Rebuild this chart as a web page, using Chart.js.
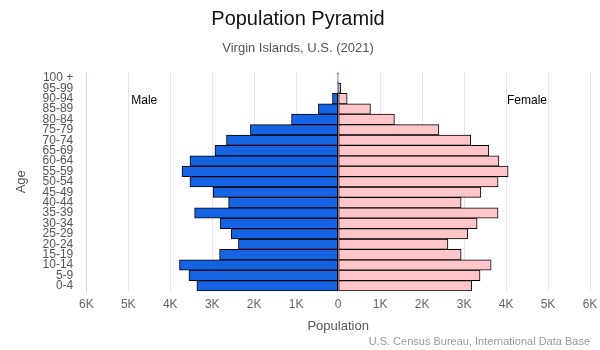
<!DOCTYPE html>
<html>
<head>
<meta charset="utf-8">
<script src="https://cdn.jsdelivr.net/npm/chart.js@4/dist/chart.umd.min.js"></script>
<style>
  html, body { margin: 0; padding: 0; background: #fff; }
  #wrap { width: 600px; height: 350px; }
</style>
</head>
<body>
<div id="wrap"><canvas id="pyramid" width="600" height="350"></canvas></div>
<script>
// age groups, youngest first (axis is reversed so 100 + sits on top)
const ageGroups = ['0-4', '5-9', '10-14', '15-19', '20-24', '25-29', '30-34', '35-39', '40-44', '45-49',
  '50-54', '55-59', '60-64', '65-69', '70-74', '75-79', '80-84', '85-89', '90-94', '95-99', '100 +'];
const malePop = [3365, 3555, 3780, 2825, 2375, 2545, 2805, 3420, 2610, 2980,
  3530, 3720, 3530, 2935, 2660, 2090, 1110, 470, 135, 10, 5];
const femalePop = [3180, 3380, 3645, 2930, 2615, 3090, 3310, 3810, 2930, 3400,
  3810, 4050, 3830, 3590, 3160, 2400, 1340, 770, 215, 65, 10];
const xTicks = [-6000, -5000, -4000, -3000, -2000, -1000, 0, 1000, 2000, 3000, 4000, 5000, 6000];

const FONT = "'Liberation Sans', Arial, Helvetica, sans-serif";

// side labels + source note
const extrasPlugin = {
  id: 'extras',
  afterDraw(chart) {
    const ctx = chart.ctx;
    const x = chart.scales.x;
    const area = chart.chartArea;
    ctx.save();
    ctx.font = '12px ' + FONT;
    ctx.fillStyle = '#000';
    ctx.textAlign = 'center';
    ctx.textBaseline = 'middle';
    ctx.fillText('Male', x.getPixelForValue(-4620), area.top + 28);
    ctx.fillText('Female', x.getPixelForValue(4500), area.top + 28);
    ctx.font = '11px ' + FONT;
    ctx.fillStyle = '#999';
    ctx.textAlign = 'right';
    ctx.fillText('U.S. Census Bureau, International Data Base', 590, 342);
    ctx.restore();
  }
};

const ctx = document.getElementById('pyramid').getContext('2d');
new Chart(ctx, {
  type: 'bar',
  data: {
    labels: ageGroups,
    datasets: [{
      label: 'Male',
      data: malePop.map(v => -v),
      backgroundColor: '#1664e4',
      borderColor: '#000',
      borderWidth: 1,
      borderSkipped: false,
      barPercentage: 1,
      categoryPercentage: 1
    }, {
      label: 'Female',
      data: femalePop,
      backgroundColor: '#ffc5c9',
      borderColor: '#000',
      borderWidth: 1,
      borderSkipped: false,
      barPercentage: 1,
      categoryPercentage: 1
    }]
  },
  options: {
    responsive: false,
    animation: false,
    indexAxis: 'y',
    layout: { padding: { left: 6, right: 10, bottom: 12 } },
    scales: {
      x: {
        stacked: true,
        min: -6000,
        max: 6000,
        afterBuildTicks: s => { s.ticks = xTicks.map(v => ({ value: v })); },
        grid: { color: '#e6e6e6', drawTicks: true, tickLength: 6, tickColor: 'rgba(0,0,0,0)' },
        border: { display: false },
        ticks: {
          padding: 0,
          color: '#666',
          font: { family: FONT, size: 12 },
          callback: v => v === 0 ? '0' : Math.abs(v) / 1000 + 'K'
        },
        title: {
          display: true,
          text: 'Population',
          color: '#555',
          font: { family: FONT, size: 13 },
          padding: { top: 7, bottom: 4 }
        }
      },
      y: {
        stacked: true,
        reverse: true,
        grid: { display: false, drawTicks: false },
        border: { display: true, color: '#ccd6eb' },
        ticks: {
          autoSkip: false,
          padding: 13,
          color: '#555',
          font: { family: FONT, size: 12, lineHeight: 1 }
        },
        title: {
          display: true,
          text: 'Age',
          color: '#555',
          font: { family: FONT, size: 13 },
          padding: { top: 8, bottom: 0 }
        }
      }
    },
    plugins: {
      legend: { display: false },
      tooltip: { enabled: false },
      title: {
        display: true,
        text: 'Population Pyramid',
        color: '#111',
        font: { family: FONT, size: 20, weight: 'normal' },
        padding: { top: 7, bottom: 6 }
      },
      subtitle: {
        display: true,
        text: 'Virgin Islands, U.S. (2021)',
        color: '#555',
        font: { family: FONT, size: 13 },
        padding: { top: 4, bottom: 16 }
      }
    }
  },
  plugins: [extrasPlugin]
});
</script>
</body>
</html>
